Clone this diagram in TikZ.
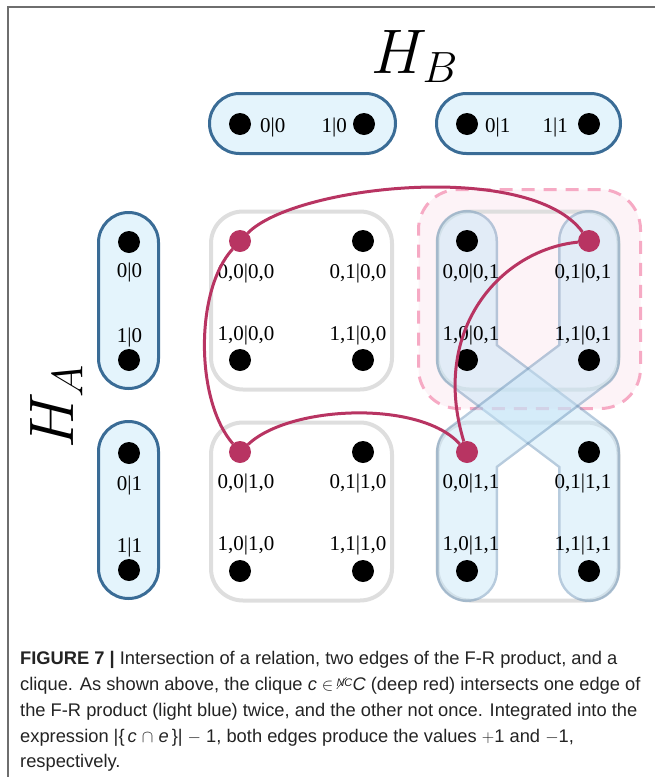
\documentclass[tikz,border=0pt]{standalone}
\usepackage{fontspec}
\newfontfamily\lblfont{Liberation Serif}
\newfontfamily\capfont{Liberation Sans}
\definecolor{pillborder}{RGB}{58,108,150}
\definecolor{pillfill}{RGB}{228,244,252}
\definecolor{grpgray}{RGB}{222,222,222}
\definecolor{cliquered}{RGB}{184,52,98}
\definecolor{pinkline}{RGB}{246,170,196}
\definecolor{pinkfill}{RGB}{253,243,247}
\definecolor{bandline}{RGB}{95,140,180}
\definecolor{bandfill}{RGB}{195,228,247}
\definecolor{framegray}{RGB}{110,110,110}
\definecolor{captext}{RGB}{35,35,35}
\pgfdeclarelayer{back}
\pgfdeclarelayer{bands}
\pgfsetlayers{back,bands,main}
\begin{document}
\begin{tikzpicture}[x=1pt,y=-1pt,
  dot/.style={circle,fill=black,minimum size=22pt,inner sep=0pt,outer sep=0pt},
  rdot/.style={dot,fill=cliquered},
  lbl/.style={font=\lblfont\fontsize{21}{21}\selectfont,inner sep=0pt,anchor=base},
  pill/.style={draw=pillborder,line width=3pt,fill=pillfill,rounded corners=30pt,inner sep=0pt},
  grp/.style={draw=grpgray,line width=4pt,rounded corners=32pt,inner sep=0pt,minimum width=181pt,minimum height=178pt},
  clique/.style={draw=cliquered,line width=3pt},
  bandout/.style={draw=bandline,line width=62pt,line cap=round,line join=round},
  bandin/.style={draw=bandfill,line width=57pt,line cap=round,line join=round},
  biglabel/.style={anchor=base west,inner sep=0pt,font=\fontsize{24.88}{25}\selectfont,scale=2.53},
  capline/.style={font=\capfont\fontsize{18.3}{26}\selectfont,text=captext,anchor=base west,inner sep=0pt},
]
\useasboundingbox (0,0) rectangle (655,777);
\draw[framegray,line width=2pt] (7.5,777) -- (7.5,6.5) -- (655,6.5);

% axis labels
\node[biglabel] (HB) at (371,73) {$H_{\scriptscriptstyle B}$};
\node[biglabel,rotate=90] (HA) at (73,449) {$H_{\scriptscriptstyle A}$};

% H_B pills
\node[pill,minimum width=186pt,minimum height=60pt] (pb0) at (302.5,123.5) {};
\node[pill,minimum width=184pt,minimum height=60pt] (pb1) at (528.5,123.5) {};
\node[dot] (hb00) at (240,124) {};
\node[dot] (hb10) at (364,124) {};
\node[dot] (hb01) at (467,124) {};
\node[dot] (hb11) at (589,124) {};
\node[lbl,anchor=base west] (lhb00) at (260,132) {0|0};
\node[lbl,anchor=base east] (lhb10) at (347,132) {1|0};
\node[lbl,anchor=base west] (lhb01) at (485,132) {0|1};
\node[lbl,anchor=base east] (lhb11) at (568,132) {1|1};

% H_A pills
\node[pill,minimum width=60pt,minimum height=176pt] (pa0) at (128.5,300.5) {};
\node[pill,minimum width=60pt,minimum height=177pt] (pa1) at (128.5,510) {};
\node[dot] (ha00) at (129,242) {};
\node[dot] (ha10) at (129,360) {};
\node[dot] (ha01) at (129,453) {};
\node[dot] (ha11) at (129,570) {};
\node[lbl] (lha00) at (129.5,277) {0|0};
\node[lbl] (lha10) at (129.5,342) {1|0};
\node[lbl] (lha01) at (129.5,490) {0|1};
\node[lbl] (lha11) at (129.5,552) {1|1};

% product grid dots
\node[rdot] (d0000) at (240,241) {};
\node[dot]  (d0100) at (363,241) {};
\node[dot]  (d1000) at (240,360) {};
\node[dot]  (d1100) at (363,360) {};
\node[dot]  (d0001) at (467,241) {};
\node[rdot] (d0101) at (589,241) {};
\node[dot]  (d1001) at (467,360) {};
\node[dot]  (d1101) at (589,360) {};
\node[rdot] (d0010) at (240,452) {};
\node[dot]  (d0110) at (363,452) {};
\node[dot]  (d1010) at (240,571) {};
\node[dot]  (d1110) at (363,571) {};
\node[rdot] (d0011) at (467,452) {};
\node[dot]  (d0111) at (589,452) {};
\node[dot]  (d1011) at (467,571) {};
\node[dot]  (d1111) at (589,571) {};

% grid labels
\node[lbl] (l0000) at (246,278) {0,0|0,0};
\node[lbl] (l0100) at (358,278) {0,1|0,0};
\node[lbl] (l1000) at (246,340) {1,0|0,0};
\node[lbl] (l1100) at (358,340) {1,1|0,0};
\node[lbl] (l0001) at (471,278) {0,0|0,1};
\node[lbl] (l0101) at (583,278) {0,1|0,1};
\node[lbl] (l1001) at (471,340) {1,0|0,1};
\node[lbl] (l1101) at (583,340) {1,1|0,1};
\node[lbl] (l0010) at (246,488) {0,0|1,0};
\node[lbl] (l0110) at (358,488) {0,1|1,0};
\node[lbl] (l1010) at (246,550) {1,0|1,0};
\node[lbl] (l1110) at (358,550) {1,1|1,0};
\node[lbl] (l0011) at (471,488) {0,0|1,1};
\node[lbl] (l0111) at (583,488) {0,1|1,1};
\node[lbl] (l1011) at (471,550) {1,0|1,1};
\node[lbl] (l1111) at (583,550) {1,1|1,1};

% relation region and groups
\begin{pgfonlayer}{back}
\node[draw=pinkline,fill=pinkfill,line width=3pt,dash pattern=on 13pt off 9pt,rounded corners=40pt,inner sep=0pt,minimum width=222pt,minimum height=219pt] (rel) at (529.5,299) {};
\node[grp] (g00) at (301.5,300.5) {};
\node[grp] (g01) at (528,300.5) {};
\node[grp] (g10) at (301.5,511.5) {};
\node[grp] (g11) at (528,511.5) {};
\end{pgfonlayer}

% F-R product edges
\begin{pgfonlayer}{bands}
\begin{scope}[transparency group,opacity=0.45]
\draw[bandout] (d0001.center) -- (d1001.center) -- (d0111.center) -- (d1111.center);
\draw[bandin] (d0001.center) -- (d1001.center) -- (d0111.center) -- (d1111.center);
\end{scope}
\begin{scope}[transparency group,opacity=0.45]
\draw[bandout] (d0101.center) -- (d1101.center) -- (d0011.center) -- (d1011.center);
\draw[bandin] (d0101.center) -- (d1101.center) -- (d0011.center) -- (d1011.center);
\end{scope}
\end{pgfonlayer}

% clique
\draw[clique] (d0000) .. controls (295,185) and (530,160) .. (d0101);
\draw[clique] (d0000) .. controls (195,290) and (195,400) .. (d0010);
\draw[clique] (d0010) .. controls (290,405) and (420,400) .. (d0011);
\draw[clique] (d0011) .. controls (430,330) and (500,250) .. (d0101);

% caption
\node[capline] (cap1) at (20,664) {\textbf{FIGURE 7 |} Intersection of a relation, two edges of the F-R product, and a};
\node[capline] (cap2) at (20,690) {clique. As shown above, the clique \textit{c} $\in$\,{\fontsize{11}{11}\selectfont\raisebox{4pt}{\rlap{\raisebox{-3pt}{\rotatebox{50}{\rule{15pt}{0.5pt}}}}\textit{NC}}}\textit{C} (deep red) intersects one edge of};
\node[capline] (cap3) at (20,716) {the F-R product (light blue) twice, and the other not once. Integrated into the};
\node[capline] (cap4) at (20,742) {expression |\{\,\textit{c} $\cap$ \textit{e}\,\}| $-$ 1, both edges produce the values $+$1 and $-$1,};
\node[capline] (cap5) at (20,767) {respectively.};
\end{tikzpicture}
\end{document}
